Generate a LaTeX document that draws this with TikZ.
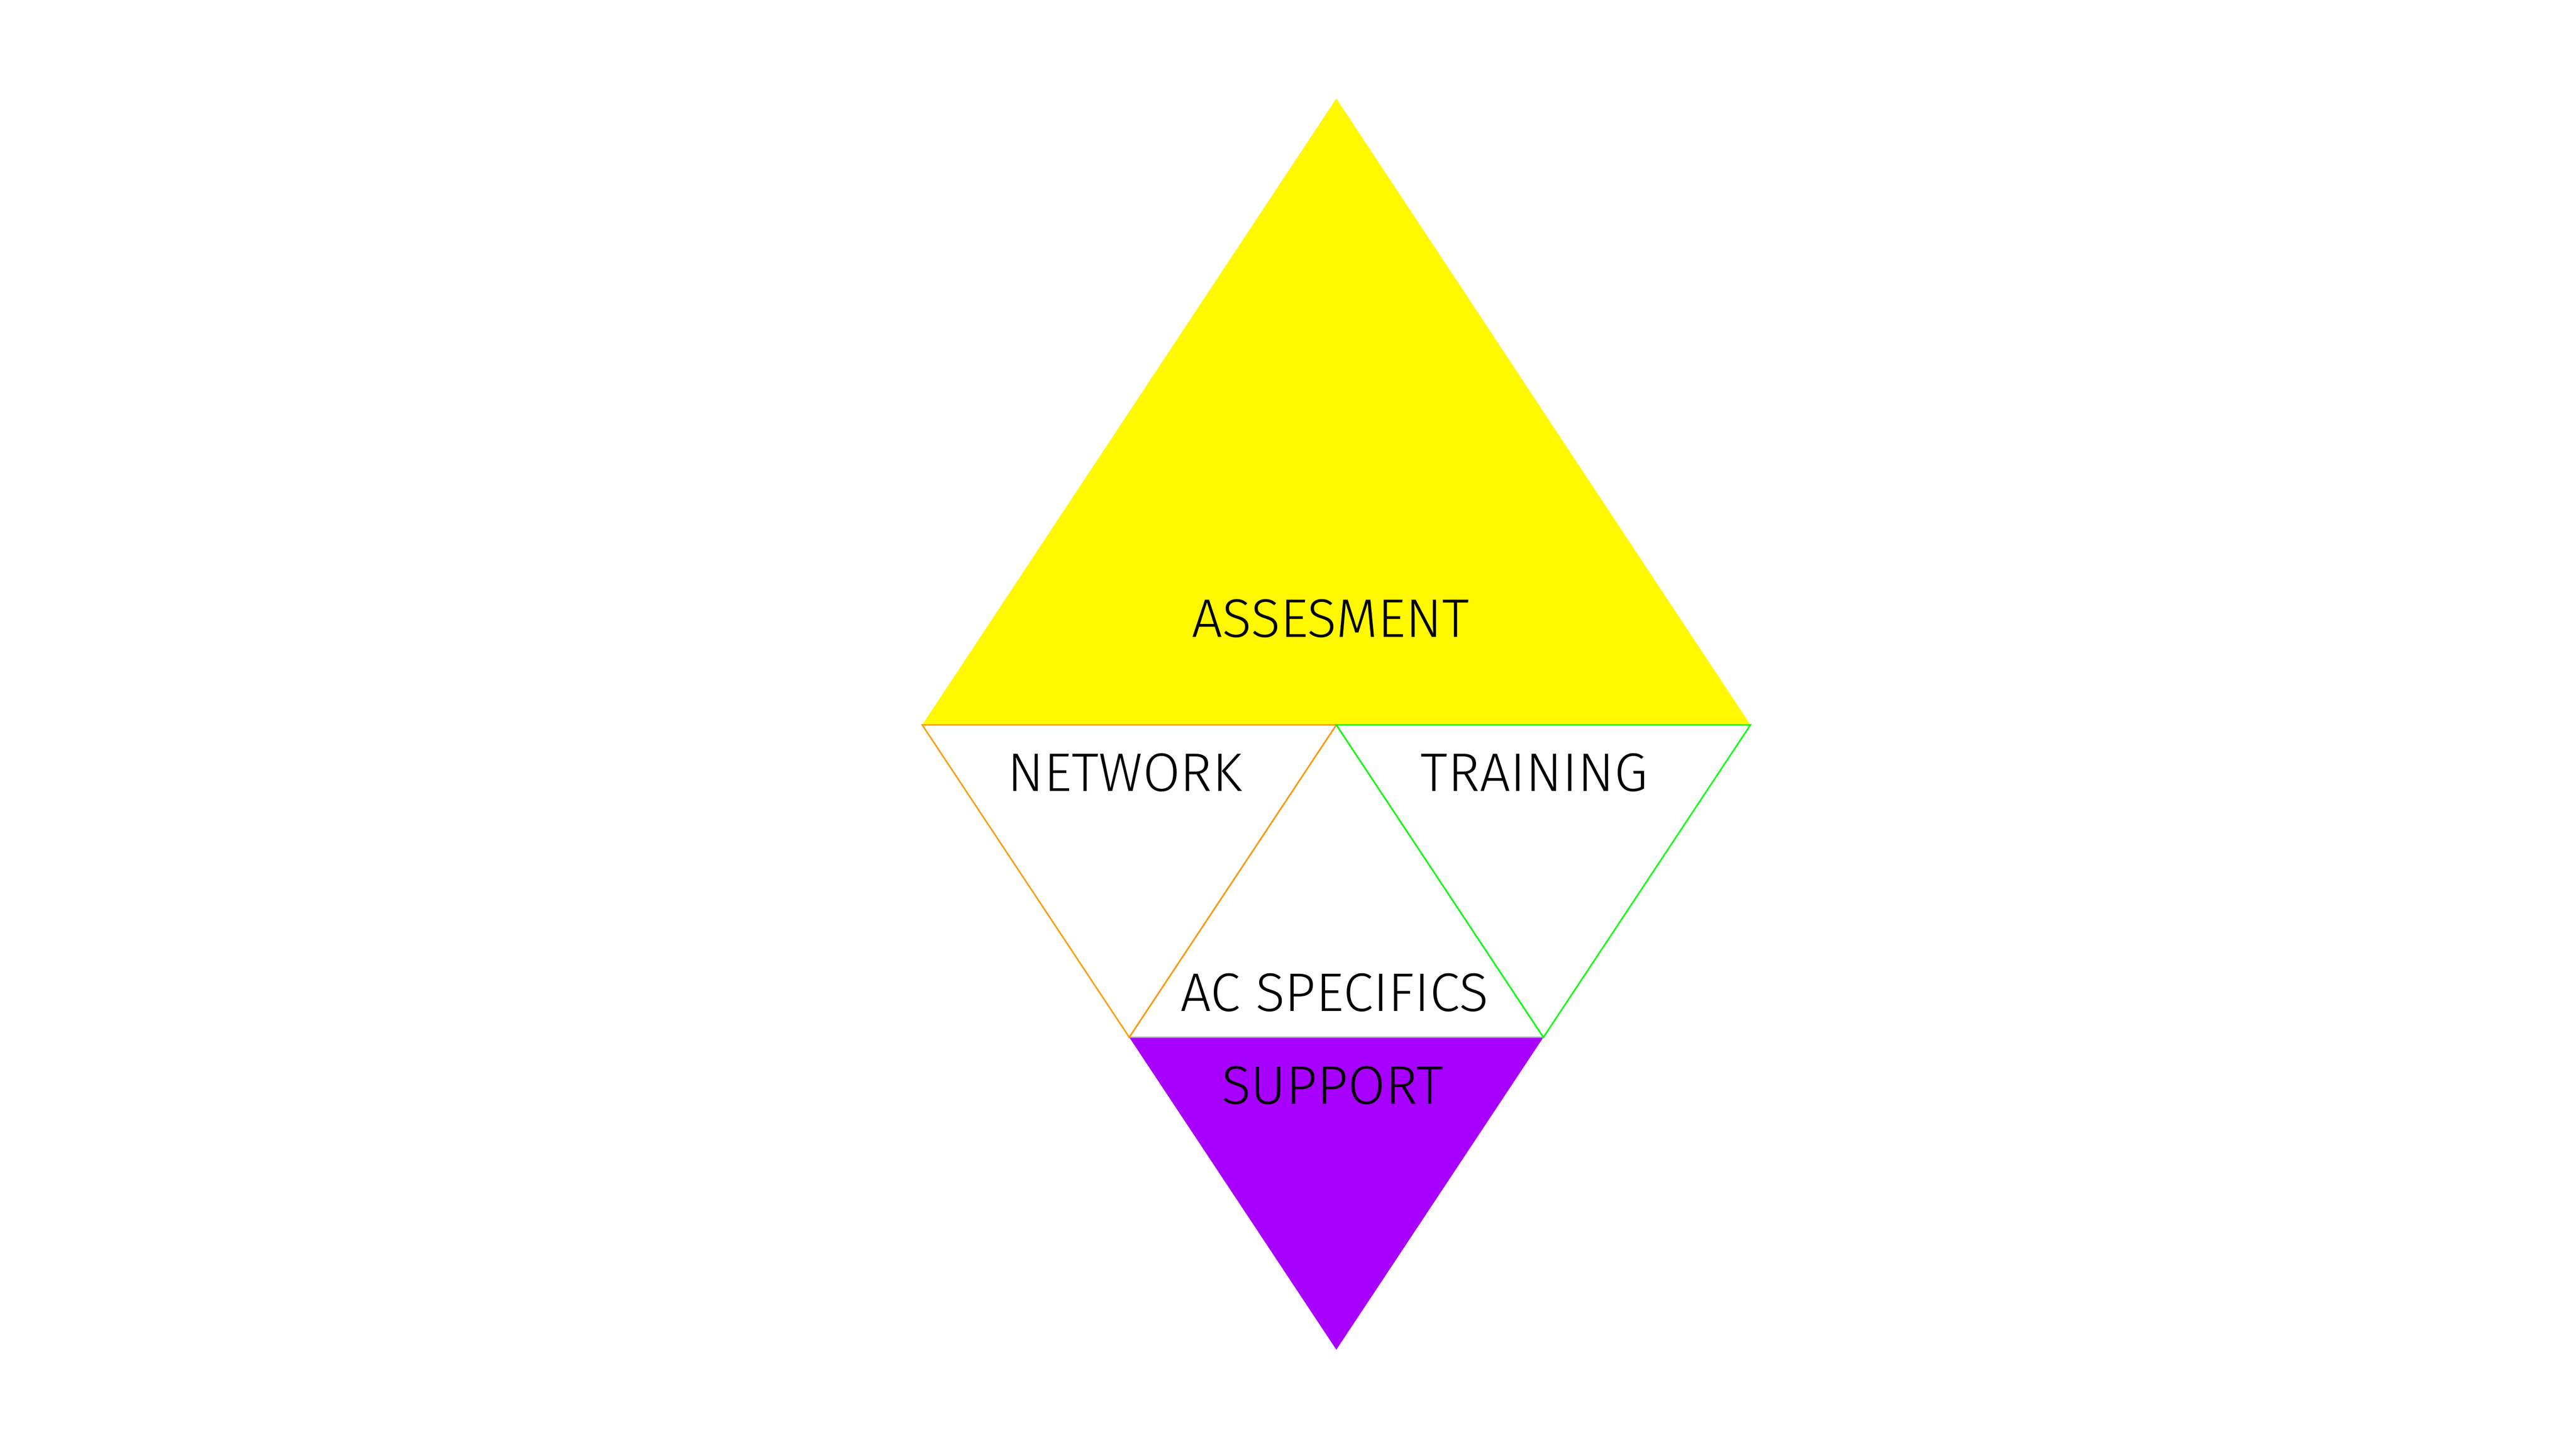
\documentclass[tikz,border=0pt]{standalone}
\usepackage{fontspec}
\setmainfont{Fira Sans Light}
\usepackage{tikz}
\usetikzlibrary{positioning}

\definecolor{assesyellow}{HTML}{FFF800}
\definecolor{supportpurple}{HTML}{A700FF}
\definecolor{netorange}{HTML}{FF9A00}
\definecolor{traingreen}{HTML}{00FF00}
\definecolor{acgray}{HTML}{AAAAAA}

\begin{document}
\begin{tikzpicture}[zonetext/.style={font=\fontsize{9.6}{10}\selectfont, inner sep=0pt, anchor=base},
    edge/.style={line width=0.25pt, line join=miter}]
    \useasboundingbox (0,0) rectangle (16,9.002);

    % Corners
    \coordinate (top) at (8.3,8.39);
    \coordinate (left) at (5.728,4.5);
    \coordinate (mid) at (8.3,4.5);
    \coordinate (right) at (10.872,4.5);
    \coordinate (lowleft) at (7.014,2.56);
    \coordinate (lowright) at (9.586,2.56);
    \coordinate (bottom) at (8.3,0.62);

    % Filled triangles
    \fill [assesyellow] (top) -- (left) -- (right) -- cycle;
    \fill [supportpurple] (lowleft) -- (lowright) -- (bottom) -- cycle;

    % Outlined triangles
    \draw [edge, acgray] (mid) -- (lowleft) -- (lowright) -- cycle;
    \draw [edge, netorange] (left) -- (mid) -- (lowleft) -- cycle;
    \draw [edge, traingreen] (mid) -- (right) -- (lowright) -- cycle;

    % Text
    \node [zonetext] (asses) at (8.264,5.044) {ASSESMENT};
    \node [zonetext] (network) at (6.986,4.088) {NETWORK};
    \node [zonetext] (training) at (9.53,4.088) {TRAINING};
    \node [zonetext] (acspec) at (8.288,2.722) {AC SPECIFICS};
    \node [zonetext] (support) at (8.277,2.146) {SUPPORT};

\end{tikzpicture}
\end{document}
